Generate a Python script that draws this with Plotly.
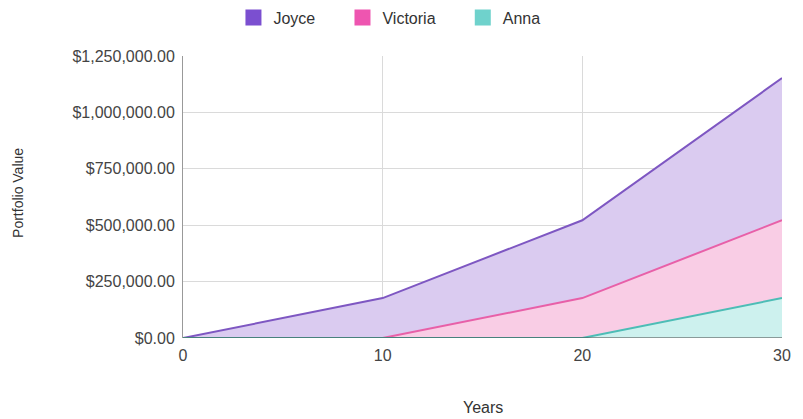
import plotly.graph_objects as go

years = [0, 10, 20, 30]
joyce = [0, 177000, 522000, 1152000]
victoria = [0, 0, 177000, 522000]
anna = [0, 0, 0, 177000]

series = [
    ("Joyce", joyce, "#7E57C2", "#DACBF0", "#7B4FD0"),
    ("Victoria", victoria, "#E860A8", "#F9CDE5", "#EE55B0"),
    ("Anna", anna, "#4DBDB6", "#CDF1EE", "#6FD2CC"),
]

fig = go.Figure()
for name, vals, col, fcol, lcol in series:
    fig.add_trace(go.Scatter(
        x=years, y=vals, name=name, mode="lines", showlegend=False,
        line=dict(color=col, width=2), fill="tozeroy", fillcolor=fcol,
    ))
pad = "\u00a0" * 5
for i, (name, vals, col, fcol, lcol) in enumerate(series):
    fig.add_trace(go.Scatter(
        x=[None], y=[None], name=name + (pad if i < len(series) - 1 else ""),
        mode="markers", marker=dict(symbol="square", size=17, color=lcol),
    ))

tick_font = dict(family="Liberation Sans, Arial, sans-serif", size=16, color="#444")
fig.update_layout(
    width=803, height=419,
    margin=dict(l=183, r=14, t=56, b=81),
    paper_bgcolor="white", plot_bgcolor="white",
    font=dict(family="Liberation Sans, Arial, sans-serif", size=16, color="#444"),
    showlegend=True,
    legend=dict(orientation="h", x=0.485, xanchor="center", y=0.958, yanchor="middle",
                yref="container", xref="container",
                font=dict(size=16, color="#333"), itemwidth=30, tracegroupgap=0),
    xaxis=dict(range=[0, 30], tickvals=[0, 10, 20, 30], showgrid=True,
               gridcolor="#dadada", zeroline=False, showline=False,
               ticks="", tickfont=tick_font, ticklabelstandoff=6),
    yaxis=dict(range=[0, 1250000], tickvals=[0, 250000, 500000, 750000, 1000000, 1250000],
               tickformat="$,.2f", showgrid=True, gridcolor="#dadada",
               zeroline=False, showline=True, linecolor="#999", linewidth=1,
               ticks="", tickfont=tick_font, ticklabelstandoff=4),
)
fig.add_shape(type="line", xref="paper", yref="y", x0=0, x1=1, y0=0, y1=0,
              line=dict(color="#444", width=1))
fig.add_annotation(text="Years", xref="paper", yref="paper", x=0.5, y=-0.245,
                   xanchor="center", yanchor="middle", showarrow=False,
                   font=dict(size=16, color="#333"))
fig.add_annotation(text="Portfolio Value", xref="paper", yref="paper",
                   x=(16 - 183) / 606, y=(338 - 193) / 282, textangle=-90,
                   xanchor="center", yanchor="middle", showarrow=False,
                   font=dict(size=14, color="#333"))

fig.write_html("out.html")
